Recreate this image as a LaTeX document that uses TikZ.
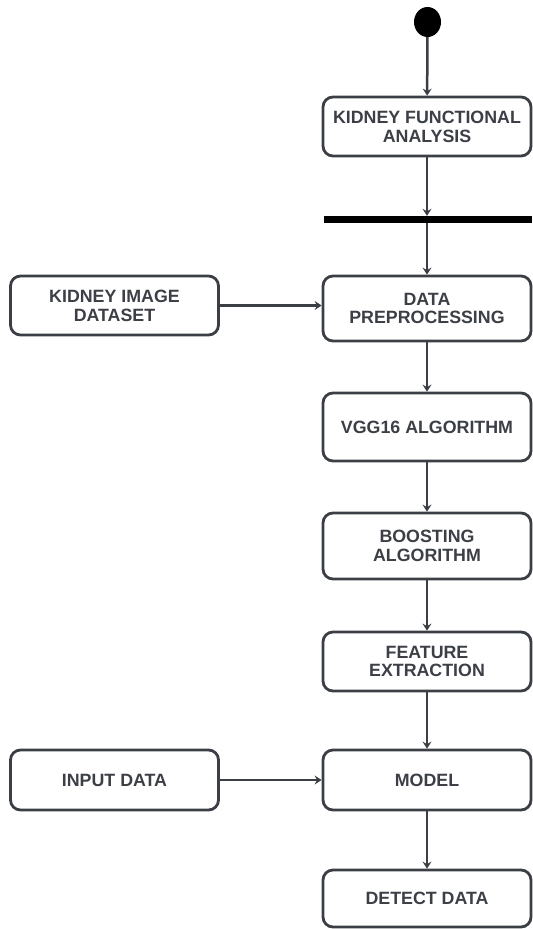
\documentclass[tikz,border=0pt]{standalone}
\usepackage{fontspec}
\setmainfont{Liberation Sans}
\usetikzlibrary{arrows.meta,shapes.geometric}
\definecolor{ink}{HTML}{3B3F45}
\definecolor{txt}{HTML}{3C4046}
\begin{document}
\begin{tikzpicture}[x=1bp,y=-1bp,
  stepbox/.style={draw=ink, line width=2.8bp, rounded corners=10bp, fill=white,
    minimum width=#1, align=center, text=txt,
    font=\fontsize{17.8bp}{18.8bp}\selectfont\bfseries, inner sep=0pt},
  stepbox/.default=208bp,
  flow/.style={draw=ink, line width=2.5bp, -{Stealth[length=7bp,width=9bp,inset=2.5bp]}}]
  \useasboundingbox (0,0) rectangle (533,929);
  \fill[white] (0,0) rectangle (533,929);

  % start point and fork bar
  \node[ellipse, fill=black, minimum width=27bp, minimum height=30bp, inner sep=0pt] (start) at (427.5,22) {};
  \node[fill=black, minimum width=208bp, minimum height=7bp, inner sep=0pt] (bar) at (428,219.5) {};

  % main column
  \node[stepbox, minimum height=59bp] (kfa) at (427,126.5) {KIDNEY FUNCTIONAL\\ANALYSIS};
  \node[stepbox, minimum height=65bp] (pre) at (427,308.5) {DATA\\PREPROCESSING};
  \node[stepbox, minimum height=68bp] (vgg) at (427,427) {VGG16 ALGORITHM};
  \node[stepbox, minimum height=66bp] (boost) at (427,546) {BOOSTING\\ALGORITHM};
  \node[stepbox, minimum height=59bp] (feat) at (427,661.5) {FEATURE\\EXTRACTION};
  \node[stepbox, minimum height=60bp] (model) at (427,780) {MODEL};
  \node[stepbox, minimum height=57bp] (detect) at (427,898.5) {DETECT DATA};

  % side inputs
  \node[stepbox, minimum height=59bp] (kid) at (114.5,305.5) {KIDNEY IMAGE\\DATASET};
  \node[stepbox, minimum height=60bp] (input) at (114.5,780) {INPUT DATA};

  % connectors
  \draw[flow] (start) -- (kfa);
  \draw[flow] (kfa) -- (kfa |- bar.north);
  \draw[flow] (kfa |- bar.south) -- (pre);
  \draw[flow] (kid) -- (pre.west |- kid);
  \draw[flow] (pre) -- (vgg);
  \draw[flow] (vgg) -- (boost);
  \draw[flow] (boost) -- (feat);
  \draw[flow] (feat) -- (model);
  \draw[flow] (input) -- (model);
  \draw[flow] (model) -- (detect);
\end{tikzpicture}
\end{document}
